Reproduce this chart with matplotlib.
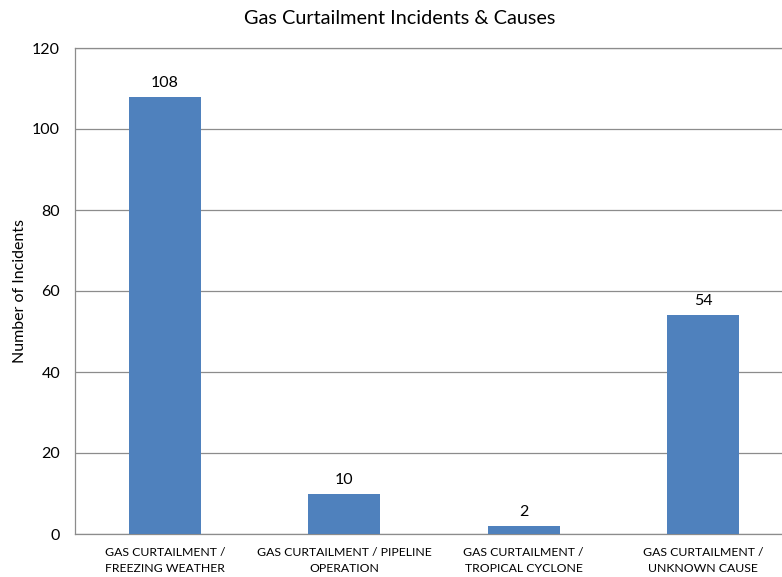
import matplotlib

matplotlib.use("Agg")
from matplotlib import pyplot as plt

causes = [
    "GAS CURTAILMENT /\nFREEZING WEATHER",
    "GAS CURTAILMENT / PIPELINE\nOPERATION",
    "GAS CURTAILMENT /\nTROPICAL CYCLONE",
    "GAS CURTAILMENT /\nUNKNOWN CAUSE",
]
incidents = [108, 10, 2, 54]
y_ticks = [0, 20, 40, 60, 80, 100, 120]

bar_color = "#4F81BD"
grid_color = "#8C8C8C"

plt.rcParams["font.family"] = ["Lato", "DejaVu Sans"]

fig = plt.figure(figsize=(7.82, 5.77), dpi=100)
ax = fig.add_axes([75.4 / 782, 1 - 534 / 577, 1 - 75.4 / 782, (534 - 48) / 577])

x = list(range(len(causes)))
bars = ax.bar(x, incidents, width=0.4, color=bar_color, zorder=3)

for b, v in zip(bars, incidents):
    ax.annotate(str(v), (b.get_x() + b.get_width() / 2, v), xytext=(0, 5),
                textcoords="offset points", ha="center", va="bottom", fontsize=11.5)

ax.set_xlim(-0.5, -0.5 + (782 - 75.4) / 179.3)
ax.set_ylim(0, 120)
ax.set_yticks(y_ticks)
ax.set_xticks(x)
ax.set_xticklabels(causes, fontsize=8.8, linespacing=1.6)
ax.tick_params(axis="y", labelsize=11.5, length=0, pad=11)
ax.tick_params(axis="x", length=0, pad=9)

ax.yaxis.grid(True, color=grid_color, linewidth=0.9, zorder=0)
ax.set_axisbelow(True)
for side in ["top", "right"]:
    ax.spines[side].set_visible(False)
for side in ["left", "bottom"]:
    ax.spines[side].set_color(grid_color)
    ax.spines[side].set_linewidth(0.9)
# top border of the plot area
ax.axhline(120, color=grid_color, linewidth=0.9, zorder=1, clip_on=False)

ax.set_ylabel("Number of Incidents", fontsize=11.5)
ax.yaxis.set_label_coords(-0.068, 0.5)

fig.text(400 / 782, 1 - 18 / 577, "Gas Curtailment Incidents & Causes",
         ha="center", va="center", fontsize=14.3)

fig.savefig("out.png", dpi=100)
